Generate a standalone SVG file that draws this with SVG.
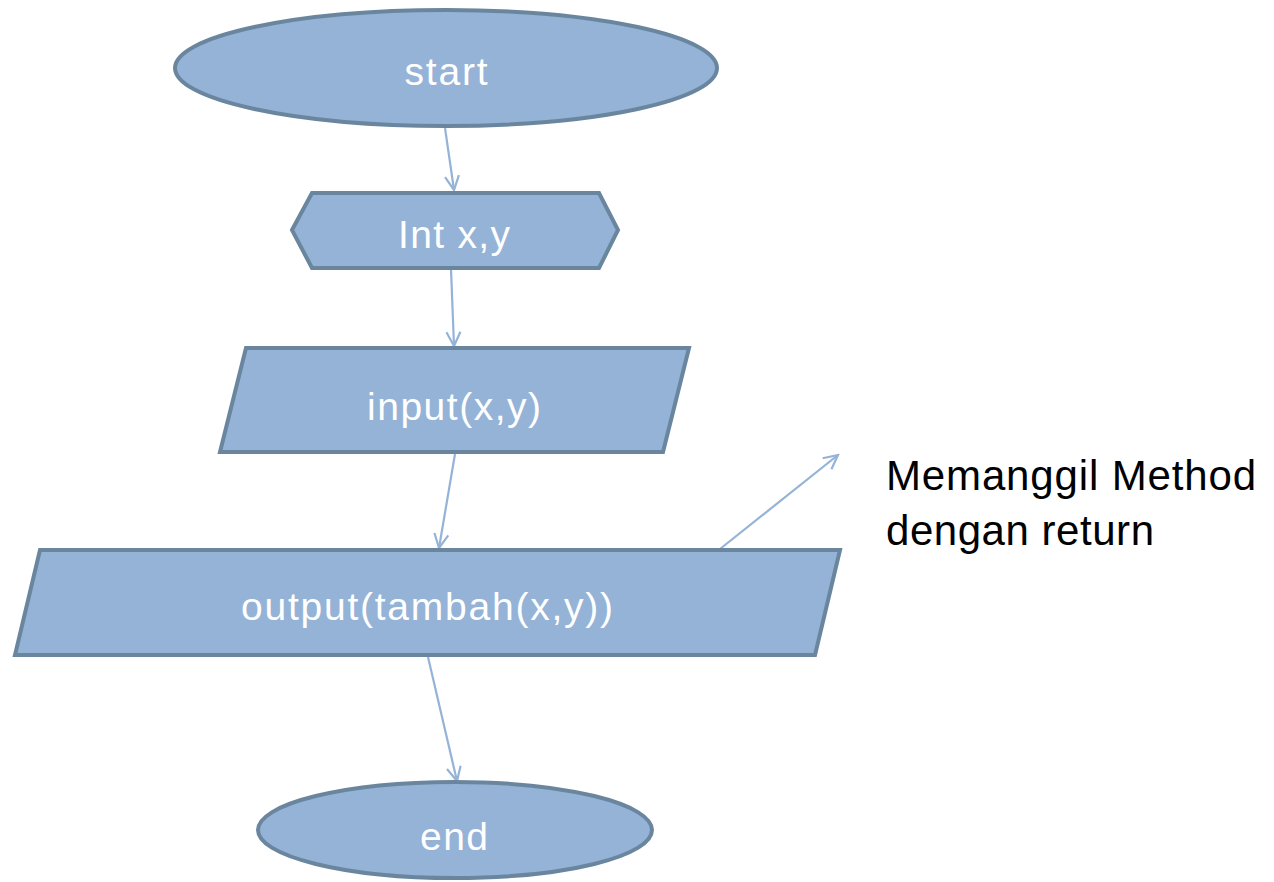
<svg xmlns="http://www.w3.org/2000/svg" width="1274" height="882" viewBox="0 0 1274 882">
  <defs>
    <style>
      .shape { fill: #95B3D7; stroke: #6A869F; stroke-width: 4; stroke-linejoin: miter; }
      .label { fill: #FFFFFF; font-family: "Liberation Sans", Arial, sans-serif; font-size: 39px; text-anchor: middle; }
      .note { fill: #000000; font-family: "Liberation Sans", Arial, sans-serif; font-size: 42px; }
      .link { stroke: #95B3D7; stroke-width: 2.2; fill: none; marker-end: url(#open); }
    </style>
    <marker id="open" viewBox="0 0 20 20" refX="18" refY="10" markerWidth="20" markerHeight="20" markerUnits="userSpaceOnUse" orient="auto">
      <path d="M4 3 L18 10 L4 17" fill="none" stroke="#95B3D7" stroke-width="2.2"/>
    </marker>
  </defs>

  <g id="connectors">
    <line class="link" x1="445" y1="128" x2="454" y2="190"/>
    <line class="link" x1="451" y1="269" x2="454" y2="346"/>
    <line class="link" x1="455" y1="454" x2="439" y2="548"/>
    <line class="link" x1="720" y1="549" x2="838" y2="455"/>
    <line class="link" x1="428" y1="657" x2="457" y2="781"/>
  </g>

  <g id="start">
    <ellipse class="shape" cx="446" cy="68" rx="271" ry="58"/>
    <text class="label" x="446" y="85" textLength="83">start</text>
  </g>

  <g id="declare">
    <polygon class="shape" points="292,230 312,193 599,193 618,230 599,268 312,268"/>
    <text class="label" x="454" y="248" textLength="112">Int x,y</text>
  </g>

  <g id="input">
    <polygon class="shape" points="246,348 689,348 663,452 220,452"/>
    <text class="label" x="454" y="420" textLength="174">input(x,y)</text>
  </g>

  <g id="output">
    <polygon class="shape" points="40,550 840,550 815,655 15,655"/>
    <text class="label" x="427" y="620" textLength="372">output(tambah(x,y))</text>
  </g>

  <g id="end">
    <ellipse class="shape" cx="455" cy="830" rx="197" ry="48"/>
    <text class="label" x="454" y="850" textLength="68">end</text>
  </g>

  <g id="note">
    <text class="note" x="886" y="490" textLength="370">Memanggil Method</text>
    <text class="note" x="886" y="545" textLength="268">dengan return</text>
  </g>
</svg>
